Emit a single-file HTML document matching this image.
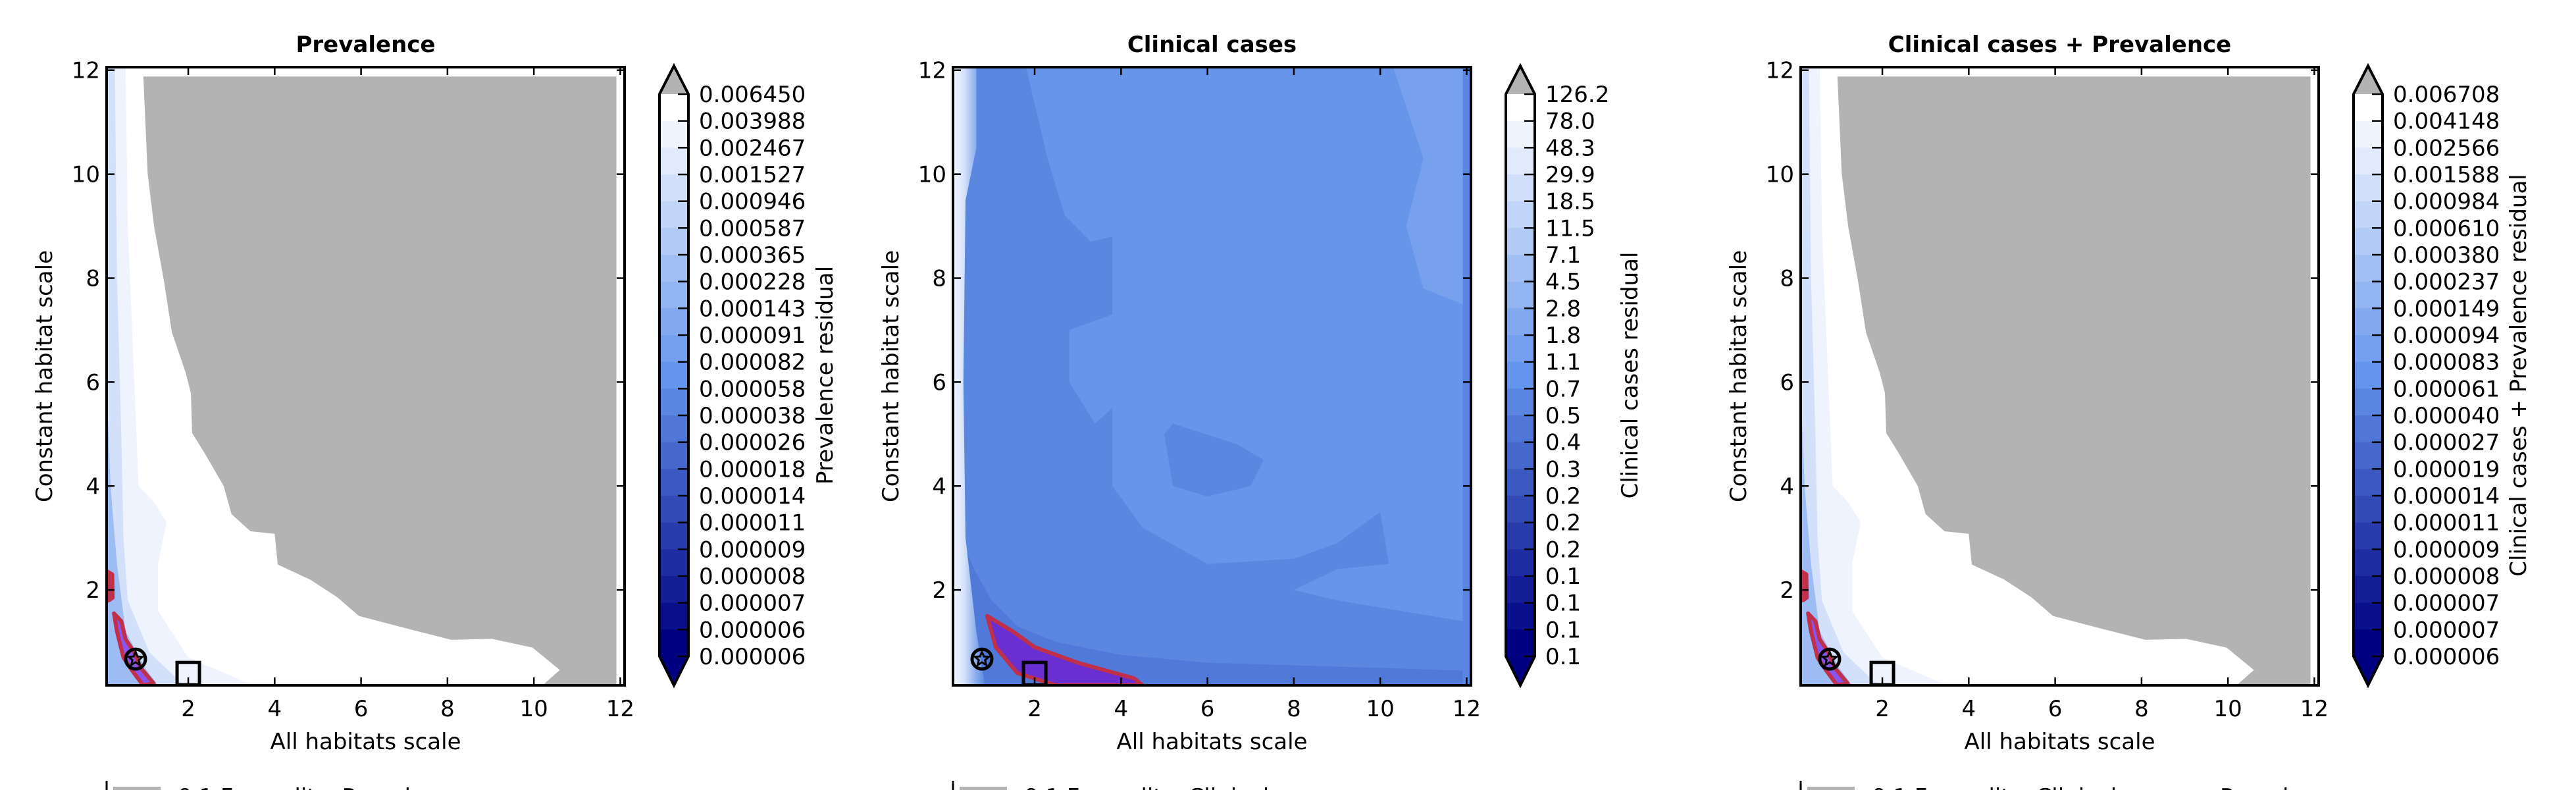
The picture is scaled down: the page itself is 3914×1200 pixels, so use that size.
<!DOCTYPE html>
<html><head><meta charset="utf-8"><style>
html,body{margin:0;padding:0;background:#fff}
svg{display:block}
text{font-family:"DejaVu Sans","Liberation Sans",sans-serif;fill:#000}
</style></head><body>
<svg id="c" width="3914" height="1200" viewBox="0 0 3914 1200" xmlns="http://www.w3.org/2000/svg"></svg>
<script>
const titles = ["Prevalence","Clinical cases","Clinical cases + Prevalence"];
const cbLabels = ["Prevalence residual","Clinical cases residual","Clinical cases + Prevalence residual"];
const legendLabels = ["0.1 Fecundity: Prevalence","0.1 Fecundity: Clinical cases","0.1 Fecundity: Clinical cases + Prevalence"];
const prevTicks = ["0.006450","0.003988","0.002467","0.001527","0.000946","0.000587","0.000365","0.000228","0.000143","0.000091","0.000082","0.000058","0.000038","0.000026","0.000018","0.000014","0.000011","0.000009","0.000008","0.000007","0.000006","0.000006"];
const clinTicks = ["126.2","78.0","48.3","29.9","18.5","11.5","7.1","4.5","2.8","1.8","1.1","0.7","0.5","0.4","0.3","0.2","0.2","0.2","0.1","0.1","0.1","0.1"];
const combTicks = ["0.006708","0.004148","0.002566","0.001588","0.000984","0.000610","0.000380","0.000237","0.000149","0.000094","0.000083","0.000061","0.000040","0.000027","0.000019","0.000014","0.000011","0.000009","0.000008","0.000007","0.000007","0.000006"];
const xTicks = [2,4,6,8,10,12];
const yTicks = [2,4,6,8,10,12];
const grayRegion = [[0.96,11.88],[1.06,10.01],[1.21,8.99],[1.44,7.93],[1.62,6.96],[1.94,6.18],[2.06,5.79],[2.09,5.02],[2.38,4.63],[2.82,4.0],[3.0,3.46],[3.44,3.13],[4.0,3.08],[4.07,2.49],[4.82,2.2],[5.45,1.86],[5.95,1.5],[6.96,1.28],[8.09,1.04],[9.03,1.06],[9.97,0.89],[10.6,0.46],[10.2,0.165],[11.91,0.165],[11.91,11.88]];
const palePrev = [[0.11,12.06],[0.55,12.06],[0.6,9],[0.75,6],[0.85,4],[1.2,3.7],[1.5,3.3],[1.3,2.5],[1.3,1.6],[2,0.7],[3.5,0.165],[0.11,0.165]];
const midPrev = [[0.11,12.06],[0.3,12.06],[0.35,8],[0.45,5],[0.5,3],[0.6,1.8],[1.1,0.8],[1.9,0.165],[0.11,0.165]];
const darkPrev = [[0.11,6],[0.2,4],[0.35,2.5],[0.55,1.2],[1.0,0.5],[1.3,0.165],[0.11,0.165]];
const redPrevA = [[0.14,2.35],[0.24,2.3],[0.25,1.85],[0.16,1.8]];
const redPrevB = [[0.28,1.55],[0.45,1.4],[0.55,1.05],[0.75,0.8],[0.9,0.5],[1.2,0.2],[0.95,0.17],[0.7,0.45],[0.5,0.7],[0.35,1.2]];
const clinLight = [[1.8,12.06],[2.3,10.3],[2.7,9.2],[3.3,8.7],[3.8,8.8],[3.8,7.3],[2.8,7.0],[2.8,6.0],[3.4,5.2],[3.8,5.5],[3.8,4.0],[4.5,3.2],[6,2.5],[8,2.6],[9,2.9],[10,3.5],[10.2,2.5],[9,2.4],[8,2.0],[9,1.8],[11.91,1.4],[11.91,12.06]];
const clinDarkBlob = [[5,5],[5.2,5.2],[6.7,4.8],[7.3,4.5],[7.0,4.0],[6.0,3.8],[5.2,4.0]];
const clinCorner = [[10.3,12.06],[11.91,12.06],[11.91,7.5],[11.0,7.8],[10.6,9],[11.0,10.3]];
const clinBand = [[0.3,3],[0.6,2.4],[1.0,1.8],[1.6,1.3],[2.5,1.0],[4,0.75],[6,0.6],[8,0.55],[10,0.5],[11.91,0.45],[11.91,0.165],[0.3,0.165]];
const clinPurple = [[0.9,1.5],[1.5,1.2],[2,0.9],[3,0.6],[4.3,0.3],[4.5,0.165],[2.5,0.165],[1.6,0.4],[1.1,0.9]];
const clinLeft = [[0.11,12.06],[0.65,12.06],[0.65,10.5],[0.4,9.5],[0.35,6],[0.4,3],[0.65,1.2],[0.85,0.165],[0.11,0.165]];
const starPos = [[0.78,0.67],[0.78,0.67],[0.78,0.67]];
const squarePos = [[2.0,0.39],[2.0,0.39],[2.0,0.39]];

const svg = document.getElementById('c');
const NS = 'http://www.w3.org/2000/svg';
function mk(tag, attrs, parent){const e=document.createElementNS(NS,tag);for(const k in attrs)e.setAttribute(k,attrs[k]);(parent||svg).appendChild(e);return e;}
function lerp(a,b,t){return a.map((v,i)=>Math.round(v+(b[i]-v)*t));}
function cmap(t){
  const W=[255,255,255],C=[100,149,237],N=[0,0,128];
  const c = t<0.5? lerp(W,C,t/0.5) : lerp(C,N,(t-0.5)/0.5);
  return `rgb(${c[0]},${c[1]},${c[2]})`;}

const AX = {top:102,h:939,w:787};
const lefts=[162,1448,2736];
const xd=[0.11,12.1], yd=[0.165,12.06];
const ticksSets=[prevTicks,clinTicks,combTicks];

lefts.forEach((L,p)=>{
  const sx=v=>L+(v-xd[0])/(xd[1]-xd[0])*AX.w;
  const sy=v=>AX.top+AX.h-(v-yd[0])/(yd[1]-yd[0])*AX.h;
  const g=mk('g',{});
  
  
  const cid='clip'+p;
  const cp=mk('clipPath',{id:cid},g);mk('rect',{x:L,y:AX.top,width:AX.w,height:AX.h},cp);
  const plot=mk('g',{'clip-path':`url(#${cid})`},g);
  
  
  const poly=(pts,fill,stroke,sw,name)=>{const e=mk('polygon',{points:pts.map(q=>sx(q[0])+','+sy(q[1])).join(' '),fill:fill,stroke:stroke||'none','stroke-width':sw||0,'stroke-linejoin':'round'},plot);
    
    return e;};
  if(p!==1){
    mk('rect',{x:L,y:AX.top,width:AX.w,height:AX.h,fill:'#fff'},plot);
    poly(palePrev,'#eef3fd',null,0,'pale-region');
    poly(midPrev,'#d3e0f9',null,0,'light-region');
    poly(darkPrev,'#9dbcf3',null,0,'mid-region');
    poly(grayRegion,'#b3b3b3',null,0,'over-range-region');
    poly(redPrevA,'#8a55ee','#c0304a',6,'significance-contour');
    poly(redPrevB,'#8a55ee','#c0304a',6,'significance-contour');
  } else {
    mk('rect',{x:L,y:AX.top,width:AX.w,height:AX.h,fill:'#5b87e0'},plot);
    poly(clinLight,'#6795ea',null,0,'light-region');
    poly(clinCorner,'#77a1ec',null,0,'corner-region');
    poly(clinDarkBlob,'#5b87e0',null,0,'dark-blob');
    poly(clinBand,'#5079da',null,0,'low-band');
    const gid='lg'+p;const lg=mk('linearGradient',{id:gid,x1:0,x2:1,y1:0,y2:0},g);
    mk('stop',{offset:'0','stop-color':'#f4f7fe'},lg);mk('stop',{offset:'0.35','stop-color':'#d6e2fa'},lg);mk('stop',{offset:'0.7','stop-color':'#8fb0ee'},lg);mk('stop',{offset:'1','stop-color':'#5b87e0'},lg);
    poly(clinLeft,`url(#${gid})`,null,0,'left-edge-region');
    poly(clinPurple,'#6a2fd0','#c0304a',6,'significance-contour');
  }
  const [stx,sty]=starPos[p];const cx=sx(stx),cy=sy(sty);
  const mg=mk('g',{},g);
  
  
  mk('circle',{cx:cx,cy:cy,r:15,fill:'none',stroke:'#000','stroke-width':5},mg);
  let sp=[];for(let i=0;i<10;i++){const a=-Math.PI/2+i*Math.PI/5,r=i%2?5:11;sp.push((cx+r*Math.cos(a))+','+(cy+r*Math.sin(a)));}
  mk('polygon',{points:sp.join(' '),fill:'none',stroke:'#000','stroke-width':3},mg);
  const [qx,qy]=squarePos[p];
  const sq=mk('rect',{x:sx(qx)-17,y:sy(qy)-17,width:34,height:34,fill:'none',stroke:'#000','stroke-width':5},g);
  
  
  const fr=mk('rect',{x:L,y:AX.top,width:AX.w,height:AX.h,fill:'none',stroke:'#000','stroke-width':4},g);
  
  
  xTicks.forEach(v=>{const x=sx(v);
    mk('line',{x1:x,x2:x,y1:AX.top+AX.h,y2:AX.top+AX.h-12,stroke:'#000','stroke-width':2.5},g);
    mk('line',{x1:x,x2:x,y1:AX.top,y2:AX.top+12,stroke:'#000','stroke-width':2.5},g);
    const t=mk('text',{x:x,y:1088,'font-size':34,'text-anchor':'middle'},g);t.textContent=v;
    
    });
  yTicks.forEach(v=>{const y=sy(v);
    mk('line',{x1:L,x2:L+12,y1:y,y2:y,stroke:'#000','stroke-width':2.5},g);
    mk('line',{x1:L+AX.w,x2:L+AX.w-12,y1:y,y2:y,stroke:'#000','stroke-width':2.5},g);
    const t=mk('text',{x:L-10,y:y+12,'font-size':34,'text-anchor':'end'},g);t.textContent=v;
    
    });
  const tt=mk('text',{x:L+AX.w/2,y:79,'font-size':34,'font-weight':'bold','text-anchor':'middle'},g);tt.textContent=titles[p];
  
  
  const xl=mk('text',{x:L+AX.w/2,y:1138,'font-size':34,'text-anchor':'middle'},g);xl.textContent='All habitats scale';
  
  
  const yl=mk('text',{x:0,y:0,'font-size':34,'text-anchor':'middle',transform:`translate(${L-83},${AX.top+AX.h/2}) rotate(-90)`},g);yl.textContent='Constant habitat scale';
  
  
  const cb=mk('g',{},g);
  
  
  const cx0=L+840,cw=44,ct=143,cbm=997,tip1=100,tip2=1041;
  const labs=ticksSets[p];const n=labs.length-1;const step=(cbm-ct)/n;
  for(let i=0;i<n;i++){mk('rect',{x:cx0,y:ct+i*step,width:cw,height:step+0.6,fill:cmap(i/(n-1))},cb);}
  mk('polygon',{points:`${cx0},${ct} ${cx0+cw/2},${tip1} ${cx0+cw},${ct}`,fill:'#b3b3b3'},cb);
  mk('polygon',{points:`${cx0},${cbm} ${cx0+cw/2},${tip2} ${cx0+cw},${cbm}`,fill:'#000080'},cb);
  mk('polygon',{points:`${cx0},${ct} ${cx0+cw/2},${tip1} ${cx0+cw},${ct} ${cx0+cw},${cbm} ${cx0+cw/2},${tip2} ${cx0},${cbm}`,fill:'none',stroke:'#000','stroke-width':4},cb);
  labs.forEach((s,i)=>{const y=ct+i*step;
    mk('line',{x1:cx0+cw,x2:cx0+cw-16,y1:y,y2:y,stroke:'#000','stroke-width':2.5},cb);
    const t=mk('text',{x:cx0+cw+16,y:y+12,'font-size':34},cb);t.textContent=s;
    
    });
  const cbx=[1253,2476,3826][p]-L;
  const cl=mk('text',{x:0,y:0,'font-size':34,'text-anchor':'middle',transform:`translate(${L+cbx+12},${(ct+cbm)/2}) rotate(-90)`},cb);cl.textContent=cbLabels[p];
  
  
  const lgd=mk('g',{},g);
  
  
  mk('line',{x1:L,x2:L,y1:1186,y2:1200,stroke:'#000','stroke-width':3},lgd);
  mk('rect',{x:L+10,y:1195,width:72,height:12,fill:'#b3b3b3'},lgd);
  const lt=mk('text',{x:L+108,y:1222,'font-size':34},lgd);lt.textContent=legendLabels[p];
  
  
});
</script>
</body></html>
